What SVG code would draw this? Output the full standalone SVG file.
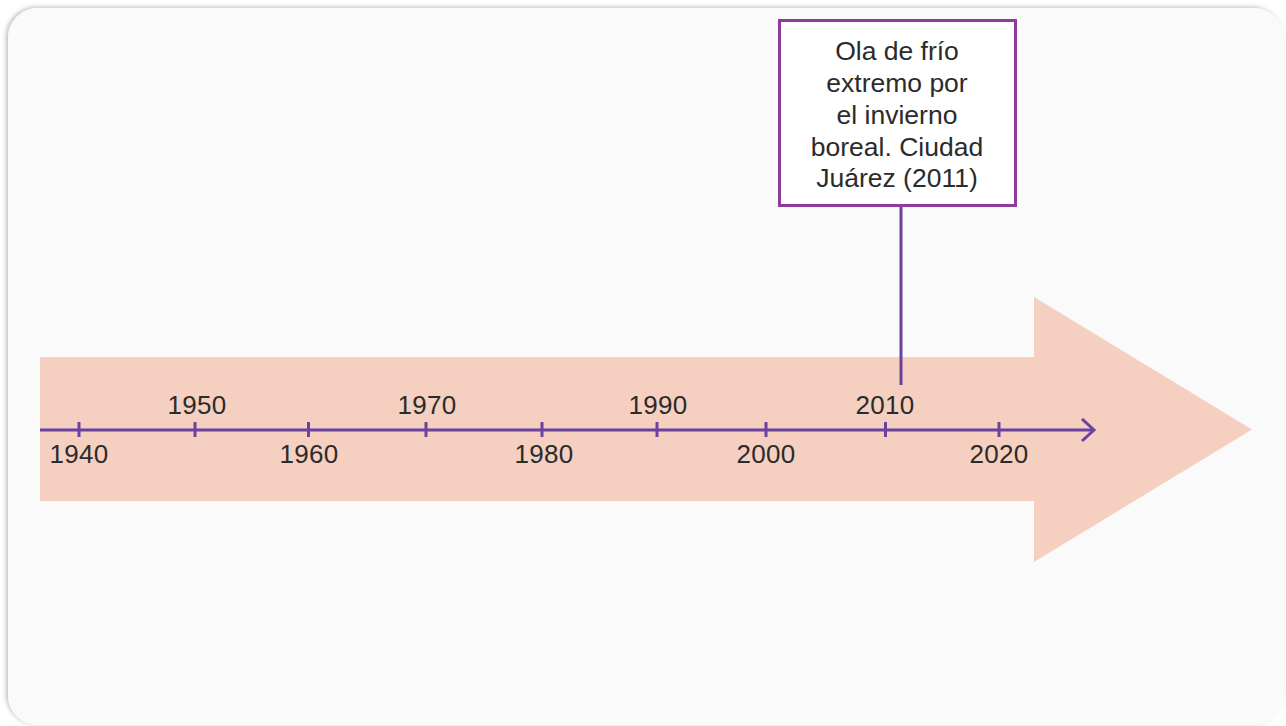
<svg xmlns="http://www.w3.org/2000/svg" width="1286" height="726" viewBox="0 0 1286 726">
<defs>
<filter id="sh" x="-5%" y="-5%" width="110%" height="110%">
<feDropShadow dx="-2" dy="-1" stdDeviation="2" flood-color="#000" flood-opacity="0.25"/>
</filter>
<marker id="chev" markerUnits="userSpaceOnUse" markerWidth="20" markerHeight="30" refX="14" refY="12" orient="auto">
<path d="M2,1 L14,12 L2,23" fill="none" stroke="#6a42a0" stroke-width="3"/>
</marker>
<style>
.yr{font-family:"Liberation Sans",Arial,sans-serif;font-size:26px;letter-spacing:0.3px;fill:#2b2b2b;text-anchor:middle}
.bt{font-family:"Liberation Sans",Arial,sans-serif;font-size:26.5px;fill:#2b2b2b;text-anchor:middle}
.tick{stroke:#6a42a0;stroke-width:3}
</style>
</defs>
<rect width="1286" height="726" fill="#ffffff"/>
<rect x="8" y="8" width="1276" height="717" rx="30" fill="#fafafa" filter="url(#sh)"/>
<g id="banner">
<polygon points="40,357 1034,357 1034,297 1252,429.5 1034,562 1034,501 40,501" fill="#f5cfc0"/>
</g>
<g id="connectors">
<line x1="40" y1="430" x2="1094" y2="430" stroke="#6a42a0" stroke-width="3" marker-end="url(#chev)"/>
<line x1="901" y1="205" x2="901" y2="385" stroke="#6a42a0" stroke-width="3"/>
</g>
<g id="ticks">
<line class="tick" x1="79" y1="422" x2="79" y2="437"/>
<line class="tick" x1="195" y1="422" x2="195" y2="437"/>
<line class="tick" x1="308.5" y1="422" x2="308.5" y2="437"/>
<line class="tick" x1="426" y1="422" x2="426" y2="437"/>
<line class="tick" x1="542" y1="422" x2="542" y2="437"/>
<line class="tick" x1="657" y1="422" x2="657" y2="437"/>
<line class="tick" x1="766" y1="422" x2="766" y2="437"/>
<line class="tick" x1="885.5" y1="422" x2="885.5" y2="437"/>
<line class="tick" x1="999" y1="422" x2="999" y2="437"/>
</g>
<g id="labels">
<text class="yr" x="79" y="463">1940</text>
<text class="yr" x="197" y="414">1950</text>
<text class="yr" x="309" y="463">1960</text>
<text class="yr" x="427" y="414">1970</text>
<text class="yr" x="544" y="463">1980</text>
<text class="yr" x="658" y="414">1990</text>
<text class="yr" x="766" y="463">2000</text>
<text class="yr" x="885" y="414">2010</text>
<text class="yr" x="999" y="463">2020</text>
</g>
<g id="event">
<rect x="779.5" y="20.5" width="236" height="185" fill="#ffffff" stroke="#8e3b9c" stroke-width="3"/>
<text class="bt" x="897" y="60">Ola de frío</text>
<text class="bt" x="897" y="92">extremo por</text>
<text class="bt" x="897" y="124">el invierno</text>
<text class="bt" x="897" y="156">boreal. Ciudad</text>
<text class="bt" x="897" y="187">Juárez (2011)</text>
</g>
</svg>
